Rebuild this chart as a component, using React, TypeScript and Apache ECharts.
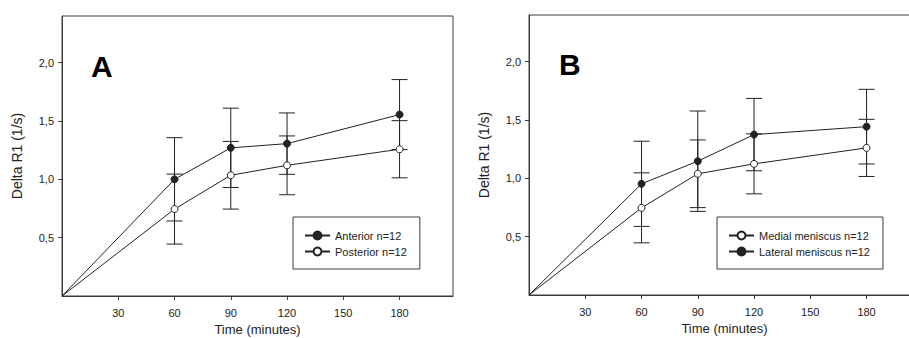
import React, { useEffect, useRef } from "react";
import * as echarts from "echarts";

const minutes = [0, 60, 90, 120, 180];
const xTicks = [30, 60, 90, 120, 150, 180];
const yTicks = [0.5, 1.0, 1.5, 2.0];

const anterior = [0, 1.0, 1.27, 1.306, 1.555];
const anteriorErr = [0, 0.357, 0.34, 0.263, 0.3];
const posterior = [0, 0.745, 1.035, 1.12, 1.258];
const posteriorErr = [0, 0.3, 0.29, 0.252, 0.245];

const medial = [0, 0.747, 1.039, 1.124, 1.261];
const medialErr = [0, 0.3, 0.29, 0.257, 0.245];
const lateral = [0, 0.953, 1.147, 1.375, 1.443];
const lateralErr = [0, 0.365, 0.43, 0.31, 0.32];

const FONT = "'Liberation Sans', Arial, sans-serif";
const INK = "#222";
const FRAME = "#3c3c3c";

function pts(vals: number[]) {
  return minutes.map((m, i) =>
    i === 0 ? { value: [m, vals[i]], symbol: "none" } : { value: [m, vals[i]] }
  );
}
function errs(vals: number[], e: number[]) {
  return minutes
    .map((m, i) => [m, vals[i] - e[i], vals[i] + e[i]])
    .filter((_, i) => i > 0);
}

function lineSeries(name: string, vals: number[], filled: boolean, idx: number) {
  return {
    type: "line",
    name,
    xAxisIndex: idx,
    yAxisIndex: idx,
    data: pts(vals),
    symbol: "circle",
    symbolSize: 7,
    z: 3,
    lineStyle: { color: INK, width: 1 },
    itemStyle: { color: filled ? INK : "#fff", borderColor: INK, borderWidth: 1 },
    emphasis: { disabled: true },
  };
}

function errSeries(vals: number[], e: number[], idx: number) {
  return {
    type: "custom",
    xAxisIndex: idx,
    yAxisIndex: idx,
    z: 2,
    encode: { x: 0, y: [1, 2] },
    data: errs(vals, e),
    renderItem: (params: any, api: any) => {
      const x = api.value(0);
      const top = api.coord([x, api.value(2)]);
      const bot = api.coord([x, api.value(1)]);
      const hw = 8;
      const style = { stroke: INK, lineWidth: 1 };
      return {
        type: "group",
        children: [
          { type: "line", shape: { x1: top[0], y1: top[1], x2: bot[0], y2: bot[1] }, style },
          { type: "line", shape: { x1: top[0] - hw, y1: top[1], x2: top[0] + hw, y2: top[1] }, style },
          { type: "line", shape: { x1: bot[0] - hw, y1: bot[1], x2: bot[0] + hw, y2: bot[1] }, style },
        ],
      };
    },
  };
}

function xAxis(idx: number) {
  return {
    type: "value",
    gridIndex: idx,
    min: 0,
    max: 208.5,
    name: "Time (minutes)",
    nameLocation: "middle",
    nameGap: 27,
    nameTextStyle: { fontFamily: FONT, fontSize: 13, color: INK },
    axisLine: { show: true, lineStyle: { color: FRAME, width: 1 } },
    axisTick: { show: true, length: 4, customValues: xTicks, lineStyle: { color: FRAME } },
    axisLabel: {
      customValues: xTicks,
      margin: 11,
      fontFamily: FONT,
      fontSize: 11,
      color: INK,
      formatter: (v: number) => String(v),
    },
    splitLine: { show: false },
  };
}

function yAxis(idx: number) {
  return {
    type: "value",
    gridIndex: idx,
    min: 0,
    max: 2.4,
    name: "Delta R1 (1/s)",
    nameLocation: "middle",
    nameGap: 38,
    nameTextStyle: { fontFamily: FONT, fontSize: 14, color: INK },
    axisLine: { show: true, lineStyle: { color: FRAME, width: 1 } },
    axisTick: { show: true, length: 4, customValues: yTicks, lineStyle: { color: FRAME } },
    axisLabel: {
      customValues: yTicks,
      margin: 8,
      fontFamily: FONT,
      fontSize: 11,
      color: INK,
      formatter: (v: number) => v.toFixed(1).replace(".", ","),
    },
    splitLine: { show: false },
  };
}

function legend(names: string[], left: number, top: number) {
  return {
    orient: "vertical",
    left,
    top,
    data: names,
    padding: [13, 13, 12, 11],
    itemWidth: 25,
    itemHeight: 10,
    itemGap: 5,
    borderColor: FRAME,
    borderWidth: 1,
    backgroundColor: "#fff",
    selectedMode: false,
    textStyle: { fontFamily: FONT, fontSize: 11, color: INK },
  };
}

export default function App() {
  const ref = useRef<HTMLDivElement>(null);
  useEffect(() => {
    if (!ref.current) return;
    const chart = echarts.init(ref.current, undefined, { renderer: "svg" });
    chart.setOption({
      animation: false,
      backgroundColor: "#fff",
      textStyle: { fontFamily: FONT },
      grid: [
        {
          left: 62, top: 16, width: 391, height: 280,
          show: true, borderColor: FRAME, borderWidth: 1,
          containLabel: false, outerBoundsMode: "none",
        },
        {
          left: 529, top: 15, width: 391, height: 280,
          show: true, borderColor: FRAME, borderWidth: 1,
          containLabel: false, outerBoundsMode: "none",
        },
      ],
      xAxis: [xAxis(0), xAxis(1)],
      yAxis: [yAxis(0), yAxis(1)],
      legend: [
        legend(["Anterior n=12", "Posterior n=12"], 293, 217),
        legend(["Medial meniscus n=12", "Lateral meniscus n=12"], 717, 217),
      ],
      graphic: [
        {
          type: "text",
          left: 91,
          top: 51,
          style: { text: "A", font: `bold 30px ${FONT}`, fill: "#000" },
        },
        {
          type: "text",
          left: 559,
          top: 49,
          style: { text: "B", font: `bold 30px ${FONT}`, fill: "#000" },
        },
      ],
      series: [
        errSeries(anterior, anteriorErr, 0),
        errSeries(posterior, posteriorErr, 0),
        lineSeries("Anterior n=12", anterior, true, 0),
        lineSeries("Posterior n=12", posterior, false, 0),
        errSeries(medial, medialErr, 1),
        errSeries(lateral, lateralErr, 1),
        lineSeries("Medial meniscus n=12", medial, false, 1),
        lineSeries("Lateral meniscus n=12", lateral, true, 1),
      ],
    });
    return () => chart.dispose();
  }, []);
  return (
    <div
      ref={ref}
      style={{ position: "fixed", left: 0, top: 0, width: 909, height: 338, background: "#fff" }}
    />
  );
}
